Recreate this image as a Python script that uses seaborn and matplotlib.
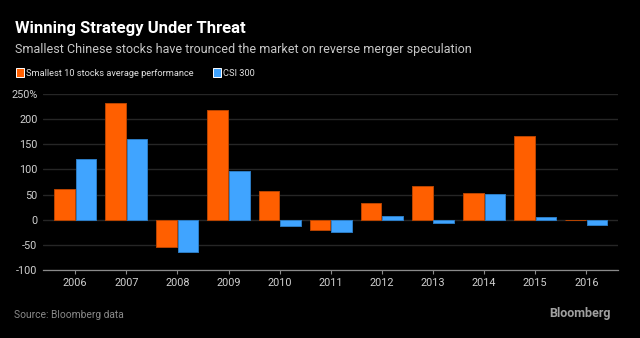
import matplotlib
matplotlib.use("Agg")
import matplotlib.pyplot as plt
import seaborn as sns
import pandas as pd

years = ["2006", "2007", "2008", "2009", "2010", "2011",
         "2012", "2013", "2014", "2015", "2016"]
smallest10 = [61, 233, -54, 218, 58, -20, 33, 68, 54, 167, -1.5]
csi300 = [121, 161, -65, 96, -12.5, -24.5, 7, -6.5, 52, 5, -11]
series_names = ["Smallest 10 stocks average performance", "CSI 300"]
y_ticks = [-100, -50, 0, 50, 100, 150, 200, 250]
y_tick_labels = ["-100", "-50", "0", "50", "100", "150", "200", "250%"]

df = pd.DataFrame({
    "year": years * 2,
    "value": smallest10 + csi300,
    "series": [series_names[0]] * len(years) + [series_names[1]] * len(years),
})

BG = "#000000"
ORANGE = "#FF5F00"
BLUE = "#40A4FF"
FONT = ["Roboto", "DejaVu Sans"]

sns.set_theme(style="dark")
plt.rcParams["font.family"] = FONT

fig = plt.figure(figsize=(6.4, 3.38), dpi=100, facecolor=BG)
ax = fig.add_axes([43 / 640, 1 - 270 / 338, (618 - 43) / 640, (270 - 94) / 338])
ax.set_facecolor(BG)

sns.barplot(data=df, x="year", y="value", hue="series",
            palette=[ORANGE, BLUE], saturation=1, width=0.84, gap=0.04,
            linewidth=0.7, ax=ax)
for patch, ec in zip(ax.patches[:2 * len(years)],
                     ["#B84400"] * len(years) + ["#2C7CC4"] * len(years)):
    patch.set_edgecolor(ec)

ax.set_xlim(-0.63, 10.62)
ax.set_ylim(-100, 250)
ax.set_yticks(y_ticks)
ax.set_yticklabels(y_tick_labels)
ax.set_xlabel("")
ax.set_ylabel("")

ax.grid(axis="y", color="#262626", linewidth=1.0)
ax.grid(axis="x", visible=False)
ax.set_axisbelow(True)
for side in ["top", "right", "left"]:
    ax.spines[side].set_visible(False)
ax.spines["bottom"].set_visible(True)
ax.spines["bottom"].set_color("#8a8a8a")
ax.spines["bottom"].set_linewidth(0.9)

ax.tick_params(axis="y", length=0, pad=4, labelsize=7.8, labelcolor="#d0d0d0")
ax.tick_params(axis="x", length=3, width=0.8, color="#8a8a8a", pad=3,
               labelsize=7.8, labelcolor="#d0d0d0", bottom=True)

sns.move_legend(ax, "upper left", bbox_to_anchor=(12 / 640, 1 - 64 / 338),
                bbox_transform=fig.transFigure, ncol=2, frameon=False,
                title=None, fontsize=6.7, handlelength=0.85, handleheight=1.2,
                handletextpad=0.3, columnspacing=2.0, borderaxespad=0,
                labelcolor="#e0e0e0")

fig.text(15 / 640, 1 - 33 / 338, "Winning Strategy Under Threat",
         color="white", fontsize=12, fontweight="bold", va="baseline")
fig.text(15 / 640, 1 - 53 / 338,
         "Smallest Chinese stocks have trounced the market on reverse merger speculation",
         color="#c8c8c8", fontsize=9.0, va="baseline")
fig.text(14 / 640, 1 - 315 / 338, "Source: Bloomberg data",
         color="#8a8a8a", fontsize=7.4, va="center")
fig.text(611 / 640, 1 - 313 / 338, "Bloomberg",
         color="#a0a0a0", fontsize=9, fontweight="bold", va="center", ha="right")

fig.savefig("out.png", dpi=100, facecolor=BG)
